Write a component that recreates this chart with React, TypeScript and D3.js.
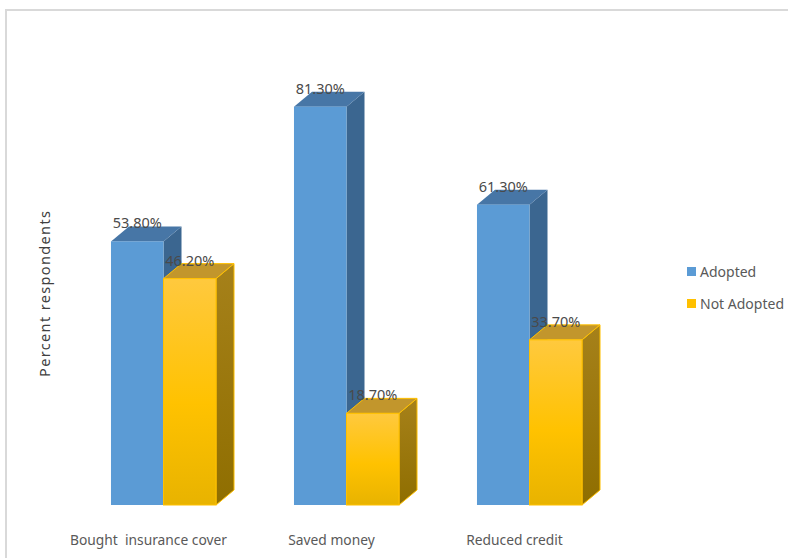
import React from "react";
import * as d3 from "d3";

const categories = ["Bought  insurance cover", "Saved money", "Reduced credit"];
const seriesNames = ["Adopted", "Not Adopted"];
const adopted = [53.8, 81.3, 61.3];
const notAdopted = [46.2, 18.7, 33.7];
const yTitle = "Percent respondents";

const W = 788;
const H = 558;
const DX = 18;
const DY = 15;
const FONT = "'Noto Sans', 'Open Sans', sans-serif";

const blue = { front: "#5b9bd5", top: "#4776a6", side: "#3b6690", stroke: "#6aa6dc" };
const gold = { top: "#c2962c", side: "#a27d12", stroke: "#ffc000" };

export default function App() {
  const x = d3
    .scaleBand<string>()
    .domain(categories)
    .range([72, 621])
    .paddingInner(0.426)
    .paddingOuter(0.213);
  const sub = d3.scaleBand<string>().domain(seriesNames).range([0, x.bandwidth()]);
  const y = d3.scaleLinear().domain([0, 100]).range([505, 15]);

  const series = [adopted, notAdopted];

  const bars: React.ReactNode[] = [];
  series.forEach((vals, si) => {
    vals.forEach((v, ci) => {
      const x0 = (x(categories[ci]) ?? 0) + (sub(seriesNames[si]) ?? 0);
      const x1 = x0 + sub.bandwidth();
      const yt = y(v);
      const yb = y(0);
      const isBlue = si === 0;
      const c = isBlue ? blue : gold;
      const front = isBlue ? blue.front : "url(#goldFront)";
      const sideFill = isBlue ? blue.side : "url(#goldSide)";
      const stroke = isBlue ? "none" : gold.stroke;
      bars.push(
        <g key={`${si}-${ci}`}>
          <polygon
            points={`${x1},${yt} ${x1 + DX},${yt - DY} ${x1 + DX},${yb - DY} ${x1},${yb}`}
            fill={sideFill}
            stroke={stroke}
            strokeWidth={1}
          />
          <polygon
            points={`${x0},${yt} ${x0 + DX},${yt - DY} ${x1 + DX},${yt - DY} ${x1},${yt}`}
            fill={c.top}
            stroke={stroke}
            strokeWidth={1}
          />
          <rect x={x0} y={yt} width={x1 - x0} height={yb - yt} fill={front} stroke={stroke} strokeWidth={1} />
          <text
            x={(x0 + x1) / 2}
            y={yt - 13}
            textAnchor="middle"
            fontFamily={FONT}
            fontSize={14.5}
            fill="#4a4a4a"
          >
            {v.toFixed(2) + "%"}
          </text>
        </g>
      );
    });
  });

  return (
    <svg
      width={W}
      height={H}
      style={{ position: "absolute", left: 0, top: 0, background: "#fff" }}
    >
      <defs>
        <linearGradient id="goldFront" x1="0" y1="0" x2="0" y2="1">
          <stop offset="0" stopColor="#ffc93e" />
          <stop offset="0.55" stopColor="#ffc200" />
          <stop offset="1" stopColor="#e8b300" />
        </linearGradient>
        <linearGradient id="goldSide" x1="0" y1="0" x2="0" y2="1">
          <stop offset="0" stopColor="#a6811a" />
          <stop offset="1" stopColor="#8f6e00" />
        </linearGradient>
      </defs>
      <rect x={6} y={10} width={W + 10} height={H + 10} fill="#fff" stroke="#d9d9d9" strokeWidth={2} />
      {bars}
      {categories.map((c) => (
        <text
          key={c}
          x={(x(c) ?? 0) + x.bandwidth() / 2 - 15}
          y={545}
          textAnchor="middle"
          fontFamily={FONT}
          fontSize={13.8}
          fill="#595959"
          style={{ whiteSpace: "pre" }}
        >
          {c}
        </text>
      ))}
      <text
        transform={`translate(50,294) rotate(-90)`}
        textAnchor="middle"
        fontFamily={FONT}
        fontSize={14.5}
        fill="#404040"
        textLength={166}
        lengthAdjust="spacing"
      >
        {yTitle}
      </text>
      {seriesNames.map((s, i) => (
        <g key={s} transform={`translate(687,${267 + i * 32})`}>
          <rect width={9} height={9} fill={i === 0 ? blue.front : "#ffc000"} />
          <text x={13} y={9.5} fontFamily={FONT} fontSize={14} fill="#595959">
            {s}
          </text>
        </g>
      ))}
    </svg>
  );
}
